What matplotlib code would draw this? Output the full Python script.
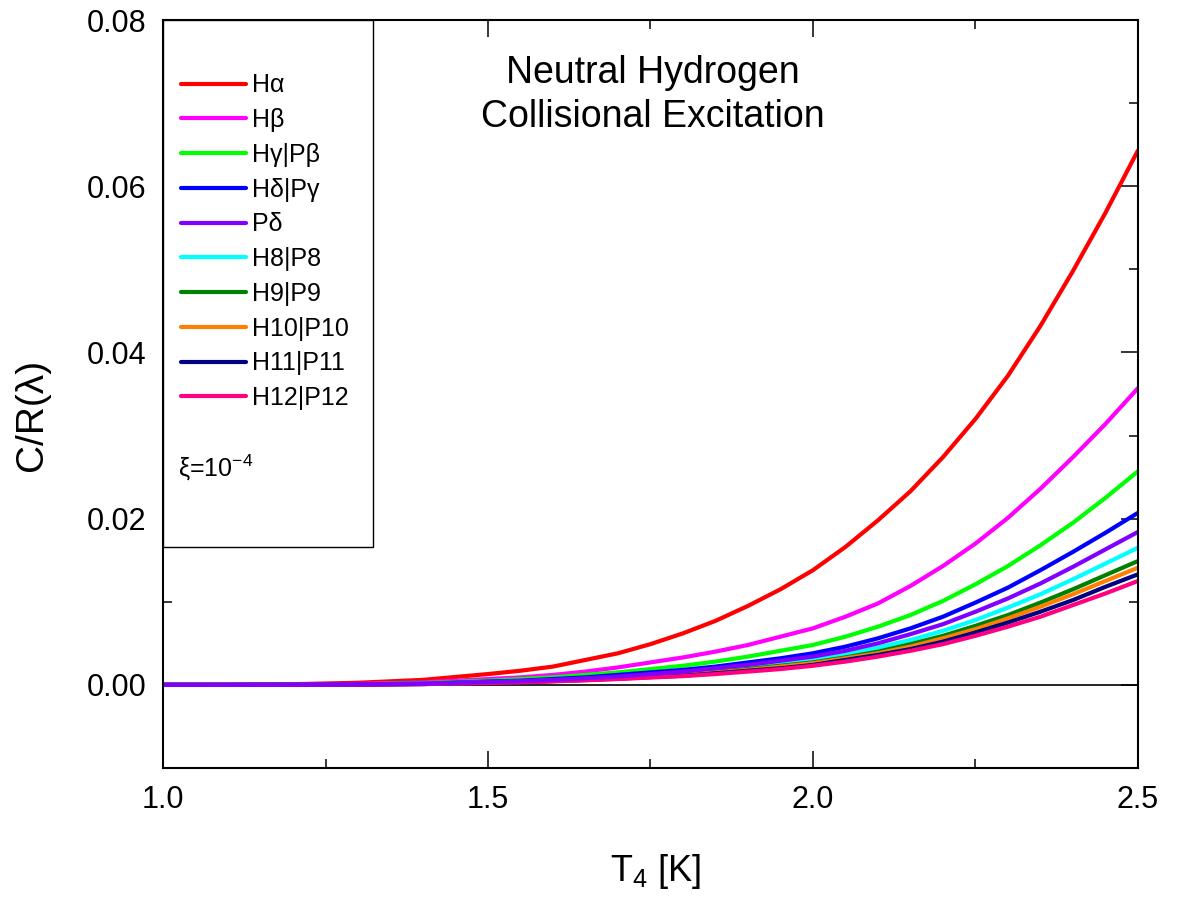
import matplotlib
matplotlib.use("Agg")
import matplotlib.pyplot as plt
from matplotlib.ticker import MultipleLocator, FormatStrFormatter
from matplotlib.patches import Rectangle

plt.rcParams['font.family'] = ['Liberation Sans', 'DejaVu Sans']
plt.rcParams['mathtext.fontset'] = 'custom'
plt.rcParams['mathtext.rm'] = 'Liberation Sans'
plt.rcParams['mathtext.default'] = 'regular'

# temperature grid (T4) and C/R values
t4 = [1.0, 1.1, 1.2, 1.3, 1.4,
      1.5, 1.55, 1.6, 1.65, 1.7, 1.75, 1.8, 1.85, 1.9, 1.95,
      2.0, 2.05, 2.1, 2.15, 2.2, 2.25, 2.3, 2.35, 2.4, 2.45, 2.5]

h_alpha = [0, 0.00002, 0.00008, 0.00025, 0.0006,
           0.0013, 0.0017, 0.0022, 0.0030, 0.0038, 0.0049, 0.0062, 0.0077, 0.0095, 0.0115,
           0.0138, 0.0166, 0.0198, 0.0233, 0.0274, 0.0320, 0.0372, 0.0432, 0.0498, 0.0568, 0.0643]
h_beta = [0, 0.00001, 0.00004, 0.00012, 0.0003,
          0.0007, 0.0009, 0.0012, 0.0016, 0.0021, 0.0027, 0.0033, 0.0040, 0.0048, 0.0058,
          0.0068, 0.0082, 0.0098, 0.0119, 0.0143, 0.0170, 0.0201, 0.0236, 0.0274, 0.0314, 0.0357]
h_gamma = [0, 0.00001, 0.00003, 0.00008, 0.0002,
           0.0005, 0.0007, 0.0009, 0.0012, 0.0015, 0.0019, 0.0023, 0.0028, 0.0034, 0.0041,
           0.0048, 0.0058, 0.0070, 0.0084, 0.0101, 0.0121, 0.0143, 0.0168, 0.0195, 0.0225, 0.0257]
h_delta = [0, 0, 0.00002, 0.00006, 0.00015,
           0.0004, 0.0005, 0.0007, 0.0009, 0.0012, 0.0015, 0.0018, 0.0022, 0.0027, 0.0032,
           0.0038, 0.0046, 0.0056, 0.0068, 0.0082, 0.0099, 0.0117, 0.0138, 0.0160, 0.0183, 0.0207]
p_delta = [0, 0, 0.00002, 0.00005, 0.00013,
           0.00035, 0.00045, 0.0006, 0.0008, 0.0010, 0.0013, 0.0016, 0.0020, 0.0024, 0.0029,
           0.0034, 0.0041, 0.0050, 0.0061, 0.0073, 0.0088, 0.0104, 0.0122, 0.0142, 0.0163, 0.0184]
h8 = [0, 0, 0.00001, 0.00005, 0.00012,
      0.0003, 0.0004, 0.00055, 0.0007, 0.0009, 0.0011, 0.0014, 0.0017, 0.0021, 0.0025,
      0.0030, 0.0037, 0.0045, 0.0054, 0.0065, 0.0078, 0.0093, 0.0109, 0.0127, 0.0146, 0.0165]
h9 = [0, 0, 0.00001, 0.00004, 0.0001,
      0.00028, 0.00037, 0.0005, 0.00065, 0.0008, 0.0010, 0.0013, 0.0016, 0.0019, 0.0023,
      0.0027, 0.0033, 0.0040, 0.0049, 0.0059, 0.0071, 0.0084, 0.0099, 0.0115, 0.0132, 0.0149]
h10 = [0, 0, 0.00001, 0.00004, 0.0001,
       0.00026, 0.00035, 0.00047, 0.0006, 0.00078, 0.00098, 0.0012, 0.0015, 0.0018, 0.0022,
       0.0026, 0.0032, 0.0038, 0.0046, 0.0056, 0.0067, 0.0080, 0.0094, 0.0109, 0.0125, 0.0141]
h11 = [0, 0, 0.00001, 0.00004, 0.0001,
       0.00025, 0.00033, 0.00045, 0.00058, 0.00074, 0.00093, 0.0011, 0.0014, 0.0017, 0.0020,
       0.0024, 0.0030, 0.0036, 0.0043, 0.0052, 0.0063, 0.0075, 0.0088, 0.0102, 0.0118, 0.0133]
h12 = [0, 0, 0.00001, 0.00003, 0.00009,
       0.00023, 0.00031, 0.00042, 0.00055, 0.0007, 0.00088, 0.00105, 0.0013, 0.0016, 0.0019,
       0.0023, 0.0028, 0.0034, 0.0041, 0.0049, 0.0059, 0.0070, 0.0082, 0.0096, 0.0110, 0.0125]

labels = ['Hα', 'Hβ', 'Hγ|Pβ', 'Hδ|Pγ', 'Pδ', 'H8|P8', 'H9|P9', 'H10|P10', 'H11|P11', 'H12|P12']
series = [h_alpha, h_beta, h_gamma, h_delta, p_delta, h8, h9, h10, h11, h12]
colors = ['#FF0000', '#FF00FF', '#00FF00', '#0000FF', '#8000FF',
          '#00FFFF', '#008000', '#FF8000', '#000080', '#FF0080']

fig = plt.figure(figsize=(11.84, 9.02), dpi=100)
ax = fig.add_axes([0.1377, 0.1486, 0.8234, 0.8292])

ax.axhline(0, color='black', lw=1.2, zorder=1)
for vals, lab, col in zip(series, labels, colors):
    z = 2.5 if lab == 'Pδ' else 2
    ax.plot(t4, vals, color=col, lw=3, label=lab, zorder=z,
            solid_capstyle='round', solid_joinstyle='round')

ax.set_xlim(1.0, 2.5)
ax.set_ylim(-0.01, 0.08)
ax.xaxis.set_major_locator(MultipleLocator(0.5))
ax.xaxis.set_minor_locator(MultipleLocator(0.25))
ax.yaxis.set_major_locator(MultipleLocator(0.02))
ax.yaxis.set_minor_locator(MultipleLocator(0.01))
ax.xaxis.set_major_formatter(FormatStrFormatter('%.1f'))
ax.yaxis.set_major_formatter(FormatStrFormatter('%.2f'))
ax.tick_params(which='both', direction='in', top=True, right=True, labelsize=22, width=1.1)
ax.tick_params(which='major', length=12, pad=12)
ax.tick_params(which='minor', length=6.5)
for sp in ax.spines.values():
    sp.set_linewidth(1.5)

ax.set_xlabel('T$_4$ [K]', fontsize=26)
ax.xaxis.set_label_coords(0.505, -0.112)
ax.set_ylabel('C/R(λ)', fontsize=28)
ax.yaxis.set_label_coords(-0.116, 0.472)

# legend panel
box = Rectangle((0, 0.2955), 0.2154, 0.7045, transform=ax.transAxes,
                facecolor='white', edgecolor='black', lw=1.0, zorder=3)
ax.add_patch(box)
leg = ax.legend(loc='upper left', bbox_to_anchor=(0.0, 0.952), frameon=False,
                fontsize=18, handlelength=2.6, handletextpad=0.25,
                labelspacing=0.43, borderaxespad=0.3)
leg.set_zorder(4)
ax.text(0.015, 0.39, 'ξ=10$^{-4}$', transform=ax.transAxes, fontsize=18, zorder=5)

ax.text(0.502, 0.9, 'Neutral Hydrogen\nCollisional Excitation', transform=ax.transAxes,
        ha='center', va='center', fontsize=27, linespacing=1.3)

fig.savefig('out.png', dpi=100)
